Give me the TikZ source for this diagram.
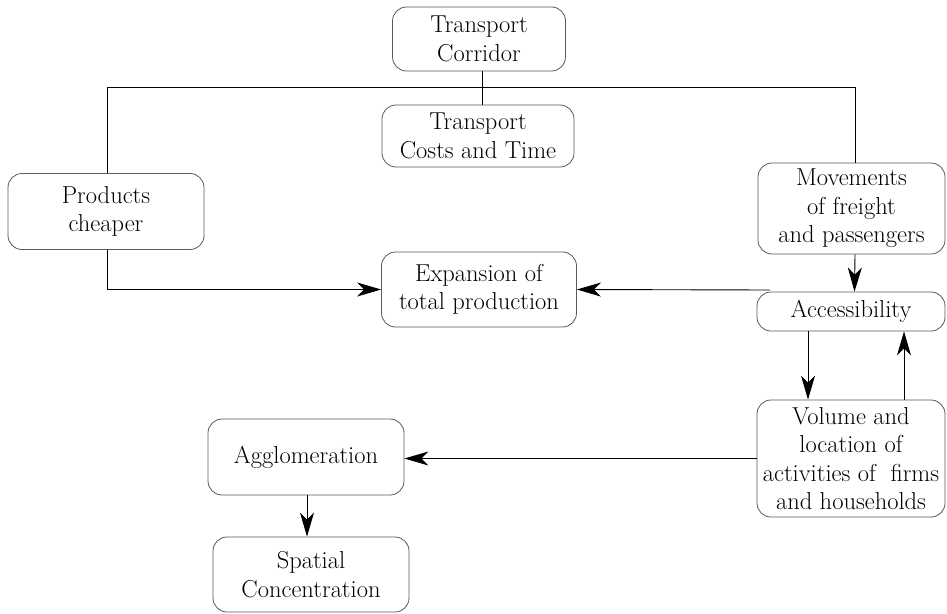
\documentclass[tikz,border=0pt]{standalone}
\usepackage{fontspec}
\usetikzlibrary{arrows.meta,calc}
\begin{document}
\begin{tikzpicture}[x=1pt,y=-1pt,
  box/.style={draw=black!65, line width=0.8pt, rounded corners=14pt, align=center,
    inner sep=0pt, font=\fontsize{24.5pt}{28.5pt}\selectfont, text=black},
  conn/.style={line width=0.9pt, draw=black},
  arr/.style={conn, -{Stealth[length=24pt,width=14pt,inset=7pt]}}]
\useasboundingbox (0,0) rectangle (947,613);
\node[box, minimum width=173pt, minimum height=64pt] (tc) at (479,39) {Transport\\Corridor};
\node[box, minimum width=192pt, minimum height=62pt] (tct) at (478,136) {Transport\\Costs and Time};
\node[box, minimum width=196pt, minimum height=76pt] (pc) at (106,211.5) {Products\\cheaper};
\node[box, minimum width=195pt, minimum height=75pt] (exp) at (479,289.5) {Expansion of\\total production};
\node[box, minimum width=187pt, minimum height=91pt] (mov) at (851.5,208.5) {Movements\\of freight\\and passengers};
\node[box, minimum width=188pt, minimum height=39pt] (acc) at (851,311.5) {Accessibility};
\node[box, minimum width=188pt, minimum height=117pt] (vol) at (851,458.5) {Volume and\\location of\\activities of\ \ firms\\and households};
\node[box, minimum width=196pt, minimum height=76pt] (agg) at (306,457) {Agglomeration};
\node[box, minimum width=196pt, minimum height=75pt] (sp) at (311,574.5) {Spatial\\Concentration};
\coordinate (hl) at (0,87.3);
\coordinate (accl) at (770,290);
\draw[conn] ([xshift=3pt]tc.south) -- ([xshift=3pt]tc.south |- tct.north);
\draw[conn] ([xshift=1pt]pc.north) -- ([xshift=1pt]pc.north |- hl) -- ([xshift=3.5pt]mov.north |- hl) -- ([xshift=3.5pt]mov.north);
\draw[arr] ([xshift=1pt]pc.south) |- (exp.west);
\draw[arr] ([xshift=3.5pt]mov.south) -- ([xshift=3.5pt]acc.north);
\draw[arr] (accl) -- (exp.east);
\draw[arr] ([xshift=-43pt]acc.south) -- ([xshift=-43pt]vol.north);
\draw[arr] ([xshift=53pt]vol.north) -- ([xshift=53pt]acc.south);
\draw[arr] (vol.west) -- (vol.west -| agg.east);
\draw[arr] ([xshift=1pt]agg.south) -- ([xshift=1pt]agg.south |- sp.north);
\end{tikzpicture}
\end{document}
